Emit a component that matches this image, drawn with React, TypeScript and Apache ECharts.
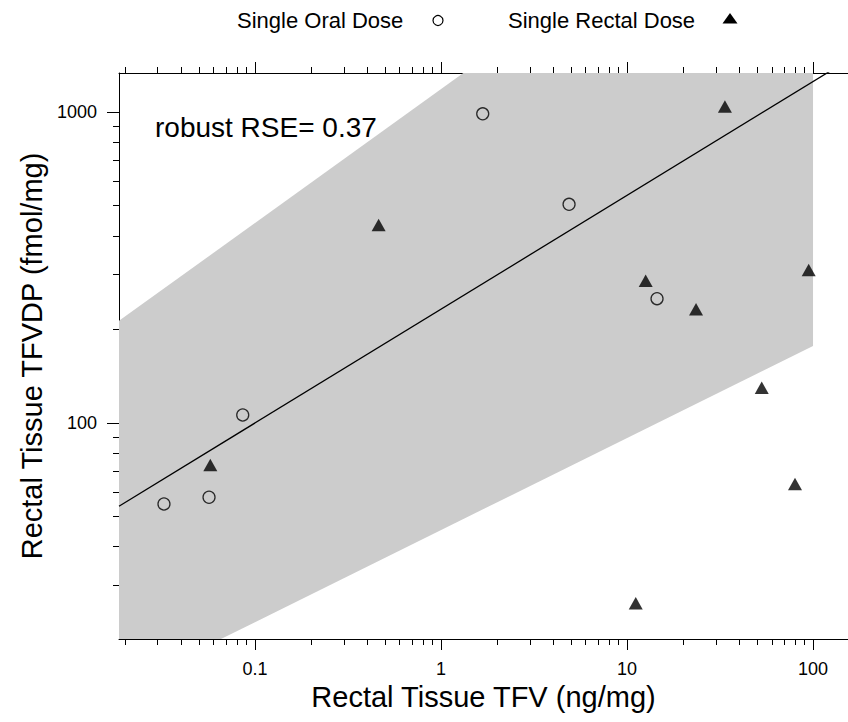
import React, { useEffect, useRef } from "react";
import * as echarts from "echarts";

// ---- data (raw units) ----
const oralX = [0.0324, 0.0566, 0.0859, 1.676, 4.88, 14.5];
const oralY = [54.9, 57.7, 106.1, 987, 505, 251];
const rectalX = [0.0575, 0.462, 33.6, 12.6, 23.5, 94.8, 53.0, 80.0, 11.14];
const rectalY = [73.3, 433, 1041, 286.9, 232.1, 310.5, 129.9, 63.7, 26.3];
const fitX = [0.01857, 154.2];
const fitY = [54.0, 1468];
const bandX = [0.01857, 100];
const bandUpper = [213, 8610];
const bandLower = [13.9, 177];
const xRange = [0.01857, 154.2];
const yRange = [20.2, 1335];
const xMajorTicks = [0.1, 1, 10, 100];
const xMajorLabels = ["0.1", "1", "10", "100"];
const yMajorTicks = [100, 1000];
const yMajorLabels = ["100", "1000"];
const minorMultipliers = [2, 3, 4, 5, 6, 7, 8, 9];
const xDecades = [0.01, 0.1, 1, 10, 100];
const yDecades = [10, 100, 1000];
const legendLabels = ["Single Oral Dose", "Single Rectal Dose"];
const annotation = "robust RSE= 0.37";

const L = (v: number) => Math.log10(v);
const FONT = "'Liberation Sans', Arial, Helvetica, sans-serif";

export default function App() {
  const ref = useRef<HTMLDivElement>(null);
  useEffect(() => {
    if (!ref.current) return;
    const chart = echarts.init(ref.current, undefined, { renderer: "svg" });
    const xMin = L(xRange[0]);
    const xMax = L(xRange[1]);
    const yMin = L(yRange[0]);
    const yMax = L(yRange[1]);
    const inRange = (v: number, a: number, b: number) => v >= a - 1e-9 && v <= b + 1e-9;
    const xMajor = xMajorTicks.map(L).filter((v) => inRange(v, xMin, xMax));
    const yMajor = yMajorTicks.map(L).filter((v) => inRange(v, yMin, yMax));
    const xMinor: number[] = [];
    xDecades.forEach((d) => minorMultipliers.forEach((m) => { const v = L(d * m); if (inRange(v, xMin, xMax)) xMinor.push(v); }));
    const yMinor: number[] = [];
    yDecades.forEach((d) => minorMultipliers.forEach((m) => { const v = L(d * m); if (inRange(v, yMin, yMax)) yMinor.push(v); }));
    const fmt = (ticks: number[], labels: string[]) => (v: number) => {
      const i = ticks.findIndex((t) => Math.abs(L(t) - v) < 1e-6);
      return i >= 0 ? labels[i] : "";
    };
    const lineStyle = { color: "#000", width: 1 };
    const xAxisBase = (position: string, showLine: boolean, ticks: number[], len: number, labels: boolean, extra: any = {}) => ({
      type: "value",
      position,
      min: xMin,
      max: xMax,
      splitLine: { show: false },
      axisLine: { show: showLine, onZero: false, lineStyle },
      axisTick: { show: true, inside: false, length: len, customValues: ticks, lineStyle },
      axisLabel: labels
        ? { show: true, customValues: xMajor, formatter: fmt(xMajorTicks, xMajorLabels), color: "#000", fontSize: 18, fontFamily: FONT, margin: 21 }
        : { show: false },
      ...extra,
    });
    const yAxisBase = (showLine: boolean, ticks: number[], len: number, labels: boolean, extra: any = {}) => ({
      type: "value",
      position: "left",
      min: yMin,
      max: yMax,
      splitLine: { show: false },
      axisLine: { show: showLine, onZero: false, lineStyle },
      axisTick: { show: true, inside: false, length: len, customValues: ticks, lineStyle },
      axisLabel: labels
        ? { show: true, customValues: yMajor, formatter: fmt(yMajorTicks, yMajorLabels), color: "#000", fontSize: 18, fontFamily: FONT, margin: 22 }
        : { show: false },
      ...extra,
    });

    const option: any = {
      animation: false,
      backgroundColor: "#fff",
      textStyle: { fontFamily: FONT },
      grid: { left: 119, top: 73, right: 0, bottom: 83, containLabel: false },
      xAxis: [
        xAxisBase("bottom", true, xMajor, 11, true, {
          name: "Rectal Tissue TFV (ng/mg)",
          nameLocation: "middle",
          nameGap: 43,
          nameTextStyle: { fontSize: 29, color: "#000", fontFamily: FONT },
        }),
        xAxisBase("bottom", false, xMinor, 6, false),
        xAxisBase("top", true, xMajor, 11, false),
        xAxisBase("top", false, xMinor, 6, false),
      ],
      yAxis: [
        yAxisBase(true, yMajor, 12, true, {
          name: "Rectal Tissue TFVDP (fmol/mg)",
          nameLocation: "middle",
          nameGap: 72,
          nameTextStyle: { fontSize: 29, color: "#000", fontFamily: FONT },
        }),
        yAxisBase(false, yMinor, 6, false),
      ],
      series: [
        {
          type: "custom",
          name: "band",
          xAxisIndex: 0,
          yAxisIndex: 0,
          clip: true,
          silent: true,
          z: 1,
          data: [[L(bandX[0]), L(bandLower[0])]],
          renderItem: (params: any, api: any) => {
            const pts: number[][] = [];
            bandX.forEach((x, i) => pts.push(api.coord([L(x), L(bandUpper[i])])));
            for (let i = bandX.length - 1; i >= 0; i--) pts.push(api.coord([L(bandX[i]), L(bandLower[i])]));
            return { type: "polygon", shape: { points: pts }, style: { fill: "#cccccc" } };
          },
        },
        {
          type: "line",
          name: "fit",
          xAxisIndex: 0,
          yAxisIndex: 0,
          z: 2,
          showSymbol: false,
          clip: true,
          silent: true,
          lineStyle: { color: "#000", width: 1.3 },
          data: fitX.map((x, i) => [L(x), L(fitY[i])]),
        },
        {
          type: "scatter",
          name: legendLabels[0],
          xAxisIndex: 0,
          yAxisIndex: 0,
          z: 3,
          symbol: "circle",
          symbolSize: 12,
          itemStyle: { color: "rgba(0,0,0,0)", borderColor: "#000", borderWidth: 1.3 },
          data: oralX.map((x, i) => [L(x), L(oralY[i])]),
        },
        {
          type: "scatter",
          name: legendLabels[1],
          xAxisIndex: 0,
          yAxisIndex: 0,
          z: 3,
          symbol: "triangle",
          symbolSize: [14, 12.5],
          itemStyle: { color: "#000" },
          data: rectalX.map((x, i) => [L(x), L(rectalY[i])]),
        },
      ],
      graphic: [
        { type: "text", left: 237, top: 9, style: { text: legendLabels[0], font: `22px ${FONT}`, fill: "#000" } },
        { type: "circle", shape: { cx: 438, cy: 20.5, r: 5 }, style: { fill: "none", stroke: "#000", lineWidth: 1.2 } },
        { type: "text", left: 508, top: 9, style: { text: legendLabels[1], font: `22px ${FONT}`, fill: "#000" } },
        { type: "polygon", shape: { points: [[722.5, 23.5], [737.5, 23.5], [730, 13]] }, style: { fill: "#000" } },
        { type: "text", left: 155, top: 113, z: 10, style: { text: annotation, font: `28px ${FONT}`, fill: "#000" } },
      ],
    };
    chart.setOption(option);
    return () => chart.dispose();
  }, []);
  return <div ref={ref} style={{ position: "absolute", left: 0, top: 0, width: 848, height: 722 }} />;
}
